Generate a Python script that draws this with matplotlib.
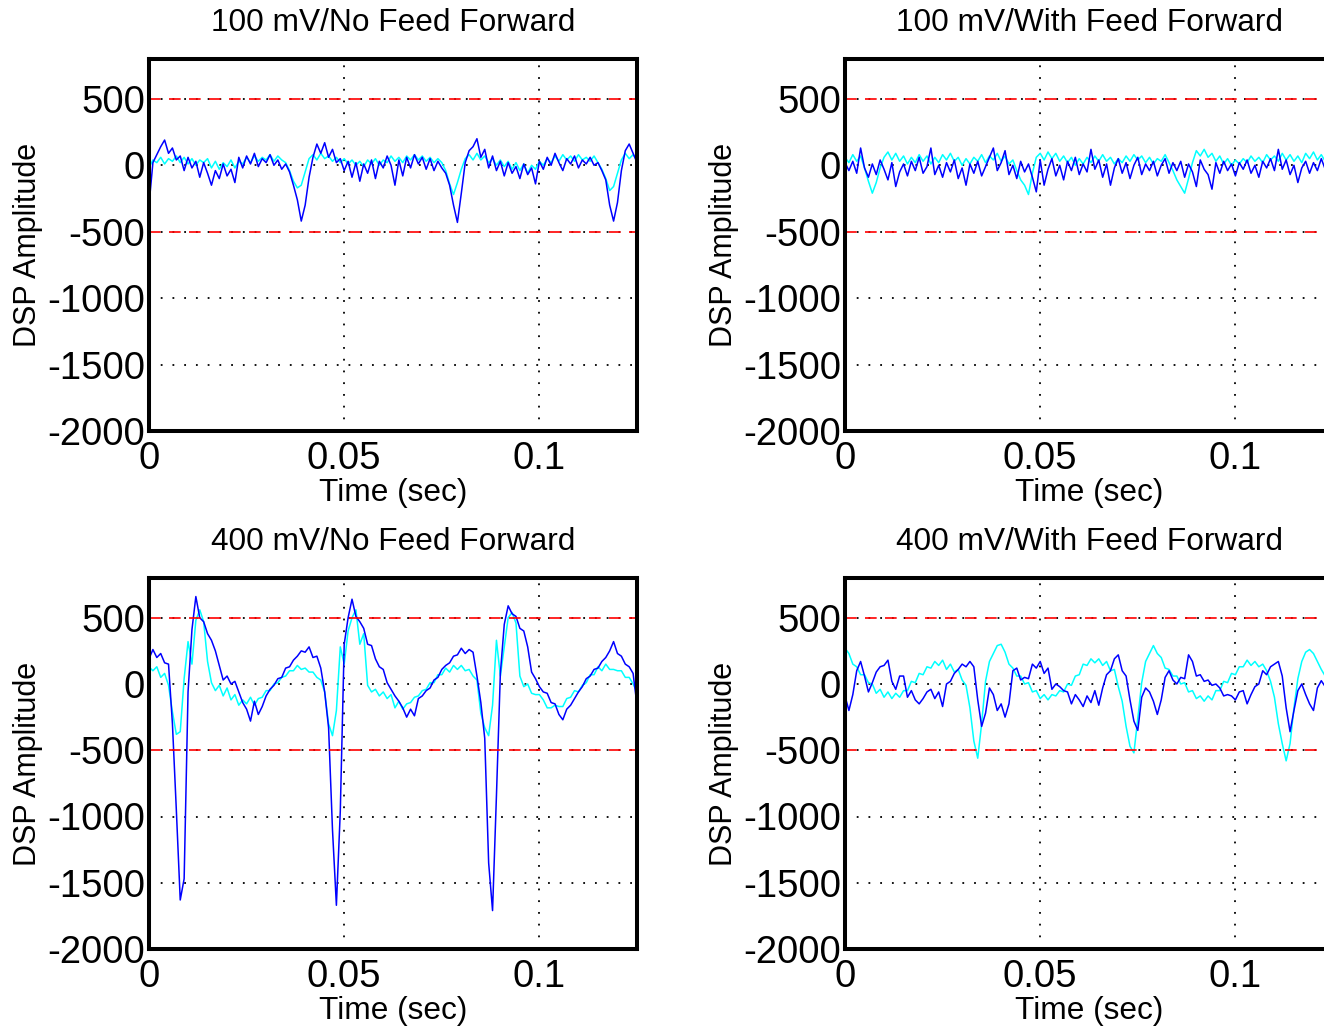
import numpy as np
import matplotlib
matplotlib.use("Agg")
import matplotlib.pyplot as plt

# ----------------------------
# Data (DSP amplitude, sampled every 1 ms from 0 to 0.125 s)
# ----------------------------
TIME_STEP = 0.001

PANEL_TITLES = [
    "100 mV/No Feed Forward",
    "100 mV/With Feed Forward",
    "400 mV/No Feed Forward",
    "400 mV/With Feed Forward",
]

# 100 mV, no feed forward
TL_BLUE = [-300, 20, 80, 140, 190, 90, 130, 40, 70, -40, 60, -20, 30, -90, 20, -60,
           -150, -40, -100, 10, -80, -30, -130, 60, -20, 70, 10, 90, -10, 50, 20, 80,
           0, 40, -30, 10, -50, -150, -260, -420, -300, -90, 60, 160, 90, 170, 60, 120,
           20, 50, -40, 30, -90, 20, -120, 10, -60, 40, -100, 30, -20, 70, 0, -150,
           40, -80, 60, -20, 80, 10, 60, -30, 50, -40, 30, -20, -60, -150, -300, -430,
           -210, 20, 110, 140, 200, 60, 120, -20, 70, -40, 30, -80, 20, -60, -10, -100,
           10, -70, -20, -140, 30, -30, 60, 0, 90, 20, -40, 50, 10, 70, -20, 40,
           10, 60, 0, 20, -40, -110, -300, -420, -280, -40, 110, 160, 90, 20]
TL_CYAN = [-20, 40, 20, 60, 10, 50, 30, 70, 20, 60, 10, 50, 0, 40, 20, 50,
           -20, 30, -30, 20, -10, 40, -20, 30, 10, 60, 20, 70, 30, 60, 40, 80,
           30, 70, 40, 20, -40, -120, -170, -150, -50, 50, 80, 40, 90, 50, 70, 30,
           60, 20, 50, 10, 40, 0, 30, -10, 40, 10, 50, 0, 40, 20, 70, 30,
           60, 20, 70, 40, 80, 40, 70, 30, 60, 20, 50, 20, -40, -140, -220, -130,
           -30, 50, 80, 40, 90, 40, 70, 20, 50, 0, 40, -10, 30, -30, 20, -40,
           10, -60, 0, -30, 30, 0, 50, 20, 70, 30, 80, 40, 70, 30, 80, 40,
           60, 30, 70, 20, -30, -100, -190, -160, -60, 40, 90, 50, 80, 40]

# 100 mV, with feed forward
TR_BLUE = [20, -40, 30, -60, 130, -20, -90, 10, -70, 40, -30, -110, 20, -160, -50, 10,
           -80, 30, -40, 60, -60, -10, 130, -70, 0, -90, 20, -50, 40, -100, -20, -150,
           10, -60, 30, -80, -10, 60, 130, -40, 20, 110, -70, 0, -100, 30, -50, 10,
           -90, -200, 40, -150, -30, 50, -80, 0, -110, 30, -40, 60, -70, 10, -50, 120,
           -30, 40, -90, 10, -150, -20, 50, -60, 20, -100, 0, 60, -70, 10, -40, 30,
           -80, 0, 50, -60, 20, -40, 30, -90, 10, -50, -160, 40, -30, -70, -180, 20,
           -60, 30, -40, 10, -80, 20, -30, 40, -60, 0, -90, 30, -20, 50, -40, 120,
           -30, 40, -70, 0, -130, -20, 30, -60, 20, -40, 50, -30, 40, -20]
TR_CYAN = [60, 20, 80, 30, 70, -20, -120, -210, -130, -20, 60, 100, 40, 90, 30, 70,
           10, 60, 20, 80, 30, 70, 10, 60, 20, 80, 40, 90, 30, 60, 0, 50,
           10, 60, 30, 80, 20, 70, 40, 90, 30, 70, 10, 40, -40, -110, -150, -220,
           -60, 60, 90, 40, 100, 50, 90, 30, 70, 20, 60, 0, 50, 10, 60, 20,
           70, 30, 80, 30, 60, 10, 50, 20, 70, 30, 80, 40, 70, 20, 60, 10,
           50, 30, 80, 20, -40, -110, -160, -210, -100, 20, 110, 70, 120, 60, 90, 30,
           70, 10, 50, 0, 40, 10, 50, 20, 70, 30, 60, 20, 80, 40, 70, 30,
           90, 40, 80, 30, 70, 20, 90, 50, 100, 40, 80, 30, 70, 40]

# 400 mV, no feed forward
BL_BLUE = [190, 260, 200, 230, 160, 150, -300, -950, -1630, -1470, -60, 410, 660, 500, 470, 380,
           330, 250, 140, 30, 60, 0, 20, -60, -140, -190, -280, -130, -230, -170, -90, -40,
           -10, 40, 50, 120, 130, 180, 210, 250, 240, 280, 200, 210, 120, -60, -330, -1100,
           -1670, -960, 300, 500, 640, 510, 470, 420, 300, 290, 190, 130, 110, 10, -40, -90,
           -130, -180, -250, -190, -240, -110, -90, -50, -30, 30, 50, 110, 140, 160, 210, 220,
           270, 230, 260, 240, 60, -140, -410, -1350, -1710, -840, 80, 450, 590, 530, 510, 420,
           400, 280, 90, 40, -20, -60, -70, -140, -150, -230, -270, -190, -160, -110, -60, -20,
           40, 60, 110, 120, 170, 200, 250, 320, 230, 210, 150, 130, 80, -160]
BL_CYAN = [130, 100, 130, 50, 80, -10, -210, -380, -360, 40, 320, 150, 480, 560, 470, 170,
           10, -50, -10, -90, -30, -120, -80, -160, -120, -150, -100, -160, -110, -100, -50, -50,
           0, 10, 50, 60, 100, 100, 140, 110, 120, 90, 90, 50, 30, -60, -300, -390,
           -200, 280, 150, 400, 500, 560, 300, 380, -10, -60, -40, -90, -60, -110, -80, -180,
           -130, -190, -150, -140, -100, -90, -50, -40, 10, 10, 70, 70, 120, 90, 140, 110,
           140, 100, 110, 60, 30, -220, -330, -390, -160, 330, 60, 280, 500, 540, 460, 60,
           -20, 0, -70, -80, -80, -120, -180, -180, -160, -170, -170, -110, -100, -50, -60, -10,
           10, 70, 70, 130, 100, 150, 110, 110, 100, 100, 50, 50, 0, -60]

# 400 mV, with feed forward
BR_BLUE = [-90, -200, -80, 100, 170, 60, -60, 10, 90, 130, 140, 180, 20, -40, 60, 60,
           -100, -50, -120, -150, -110, -60, -40, -110, -60, -170, 0, 20, 80, 110, 150, 130,
           170, 130, -120, -320, -220, -30, -80, -200, -150, -250, -150, 100, 120, 30, 50, 40,
           150, 120, 170, 80, 120, -40, 0, -20, -50, -60, -150, -80, -120, -170, -90, -140,
           -50, -160, -30, 70, 100, 190, 220, 100, 60, -120, -280, -350, -100, -30, -60, -130,
           -230, -120, 50, 100, 30, 0, 50, 40, 220, 170, 60, 70, 20, 30, -10, 0,
           -30, -90, -80, -90, -120, -60, -50, -150, -80, -20, 0, 100, 70, 130, 150, 170,
           60, -180, -360, -200, -50, 0, -80, -150, -200, -30, 25, -20, 30, 10]
BR_CYAN = [270, 230, 150, 130, 70, 70, 10, 0, -70, -40, -100, -60, -110, -70, -100, -50,
           -50, 20, 10, 80, 70, 130, 120, 170, 140, 180, 110, 150, 90, 110, 30, -10,
           -180, -430, -560, -300, 20, 170, 230, 290, 300, 240, 150, 120, 60, 60, 0, 10,
           -60, -50, -110, -80, -120, -80, -90, -50, -60, 0, -10, 60, 70, 150, 140, 190,
           160, 190, 140, 170, 100, 110, -20, -130, -320, -470, -520, -260, 10, 170, 230, 290,
           230, 200, 120, 110, 60, 60, 0, 10, -60, -50, -110, -90, -130, -90, -120, -50,
           -50, 20, 10, 80, 70, 130, 130, 180, 140, 170, 130, 150, 100, 20, -100, -300,
           -450, -580, -450, -180, 40, 170, 240, 260, 230, 170, 110, 60, 30, -10]

LIMIT_LEVELS = [500, -500]
X_TICKS = [0, 0.05, 0.1]
X_TICK_LABELS = ["0", "0.05", "0.1"]
Y_TICKS = [-2000, -1500, -1000, -500, 0, 500]

# ----------------------------
# Style
# ----------------------------
W, H = 1324, 1030
plt.rcParams.update({
    "font.family": ["Liberation Sans", "DejaVu Sans"],
    "axes.unicode_minus": False,
    "figure.facecolor": "white",
    "axes.facecolor": "white",
})

# axes boxes in pixels: (left, top, width, height)
AX_W = 488
BOXES = [
    (149, 59, AX_W, 372),
    (845, 59, AX_W, 372),
    (149, 578, AX_W, 371),
    (845, 578, AX_W, 371),
]


def style_axes(ax, title):
    ax.set_xlim(0, 0.125)
    ax.set_ylim(-2000, 800)
    ax.set_xticks(X_TICKS)
    ax.set_xticklabels(X_TICK_LABELS)
    ax.set_yticks(Y_TICKS)
    ax.tick_params(axis="both", length=0, labelsize=27.5)
    ax.tick_params(axis="x", pad=7)
    ax.tick_params(axis="y", pad=3)
    for s in ax.spines.values():
        s.set_linewidth(2.9)
        s.set_color("black")
    ax.grid(True, color="black", linestyle=(0, (1, 5.5)), linewidth=1.3)
    ax.set_title(title, fontsize=22.8, pad=20)
    ax.set_xlabel("Time (sec)", fontsize=22.8, labelpad=1)
    ax.set_ylabel("DSP Amplitude", fontsize=22, labelpad=3)


def main():
    fig = plt.figure(figsize=(W / 100, H / 100), dpi=100)
    series = [
        (TL_BLUE, TL_CYAN),
        (TR_BLUE, TR_CYAN),
        (BL_BLUE, BL_CYAN),
        (BR_BLUE, BR_CYAN),
    ]
    for (l, t, w, h), title, (blue, cyan) in zip(BOXES, PANEL_TITLES, series):
        ax = fig.add_axes([l / W, 1 - (t + h) / H, w / W, h / H])
        time = np.arange(len(blue)) * TIME_STEP
        ax.plot(time, cyan, color="cyan", linewidth=1.1)
        ax.plot(time, blue, color="blue", linewidth=1.1)
        for lvl in LIMIT_LEVELS:
            ax.axhline(lvl, color="red", linestyle=(0, (7, 5)), linewidth=1.2)
        style_axes(ax, title)

    fig.savefig("out.png", dpi=100)
    plt.close(fig)


if __name__ == "__main__":
    main()
